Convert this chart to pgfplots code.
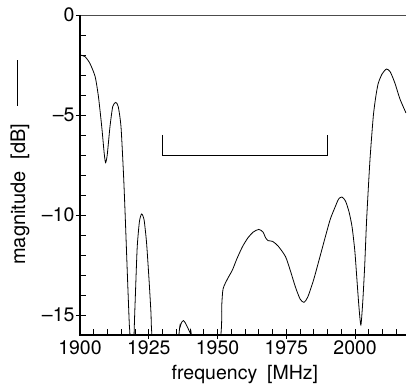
\documentclass[border=0pt]{standalone}
\usepackage{pgfplots}
\pgfplotsset{compat=1.18}
\usepackage{fontspec}
\setmainfont{TeX Gyre Heros}
\begin{document}
\begin{tikzpicture}[x=1pt,y=1pt]
\begin{axis}[
  scale only axis,
  width=326pt, height=320pt,
  xmin=1900, xmax=2018.5,
  ymin=-16, ymax=0,
  axis line style={draw=none},
  xtick pos=left, ytick pos=left,
  xtick={1900,1925,1950,1975,2000},
  xticklabels={1900,1925,1950,1975,2000},
  ytick={-15,-10,-5,0},
  yticklabels={–15,–10,–5,0},
  major tick length=0pt,
  tick label style={font=\fontsize{19.5}{21}\selectfont},
  xticklabel style={yshift=-2pt},
  yticklabel style={xshift=-2pt},
  clip mode=individual,
]
\addplot[black, line width=0.8pt, smooth, tension=0.4] coordinates {
(1900,-2.0) (1901.8,-2.08) (1903.6,-2.42) (1905.5,-3.08) (1906.7,-4.08)
(1907.9,-5.58) (1908.8,-6.92) (1909.3,-7.38) (1909.9,-7.0) (1910.9,-5.58)
(1911.9,-4.58) (1913.0,-4.37) (1913.9,-4.58) (1914.9,-5.58) (1915.8,-7.92)
(1916.4,-9.92) (1917.2,-12.9) (1917.9,-15.4) (1918.2,-16.3) (1918.9,-22)
(1919.6,-16.3) (1920.2,-13.75) (1920.8,-11.6) (1921.6,-10.33) (1922.4,-9.95)
(1923.3,-10.25) (1924.2,-11.4) (1925.1,-13.25) (1925.8,-14.9) (1926.3,-16.3)
(1931,-24)
(1935.9,-16.1) (1936.4,-15.6) (1937.0,-15.35) (1937.6,-15.28) (1938.3,-15.4)
(1939.2,-15.65) (1940.2,-15.95) (1940.6,-16.2)
(1945.5,-24)
(1951.1,-16.2) (1951.5,-14.6) (1952.0,-13.7) (1953.6,-13.2) (1955.4,-12.75)
(1957.0,-12.2) (1959.0,-11.6) (1961.0,-11.15) (1963.0,-10.85) (1965.0,-10.72)
(1966.5,-10.85) (1967.5,-11.15) (1968.3,-11.28) (1970.0,-11.32) (1972.0,-11.55)
(1974.7,-12.08) (1976.5,-12.8) (1978.3,-13.6) (1980.0,-14.2) (1981.4,-14.37)
(1982.8,-14.1) (1984.9,-13.25) (1987.0,-12.2) (1989.2,-11.08) (1991.0,-10.2)
(1992.8,-9.58) (1994.0,-9.2) (1995.2,-9.1) (1996.5,-9.3) (1997.8,-9.85)
(1998.9,-10.6) (1999.9,-11.8) (2000.7,-13.3) (2001.4,-14.6) (2002.1,-15.5)
(2002.8,-14.3) (2003.5,-12.5) (2004.2,-10.2) (2005.4,-7.25) (2006.6,-5.08)
(2007.5,-4.1) (2008.4,-3.42) (2009.8,-2.95) (2011.4,-2.7) (2012.8,-2.85)
(2014.5,-3.42) (2016.3,-4.2) (2018.5,-4.9)
};
\addplot[black, line width=0.8pt] coordinates {(1930,-6) (1930,-7) (1990,-7) (1990,-6)};
\pgfplotsinvokeforeach{1905,1910,1915,1920,1930,1935,1940,1945,1955,1960,1965,1970,1980,1985,1990,1995,2005,2010,2015}{
  \draw[line width=0.8pt, black] (axis cs:#1,-16) -- ++(0pt,6pt);
}
\pgfplotsinvokeforeach{1925,1950,1975,2000}{
  \draw[line width=0.8pt, black] (axis cs:#1,-16) ++(0pt,-4pt) -- ++(0pt,10pt);
}
\pgfplotsinvokeforeach{-1,-2,-3,-4,-6,-7,-8,-9,-11,-12,-13,-14}{
  \draw[line width=0.8pt, black] (axis cs:1900,#1) -- ++(6pt,0pt);
}
\pgfplotsinvokeforeach{-15,-10,-5,0}{
  \draw[line width=0.8pt, black] (axis cs:1900,#1) ++(-4pt,0pt) -- ++(10pt,0pt);
}
\draw[line width=0.8pt, gray!60!black] (rel axis cs:0,1) -- (rel axis cs:1,1);
\draw[line width=1.6pt, black] (rel axis cs:0,1) -- (rel axis cs:0,0) -- (rel axis cs:1,0);
\node[rotate=90, anchor=center, font=\fontsize{20}{22}\selectfont] at (rel axis cs:-0.184,0.54)
  {magnitude\hspace{12pt}[dB]\hspace{18pt}\rule[0.38em]{2.3em}{0.8pt}};
\node[anchor=center, font=\fontsize{19.5}{21}\selectfont] at (rel axis cs:0.506,-0.122)
  {frequency\hspace{10pt}[MHz]};
\end{axis}
\pgfresetboundingbox
\path[use as bounding box] (-80,-55) rectangle (327,335);
\end{tikzpicture}
\end{document}
